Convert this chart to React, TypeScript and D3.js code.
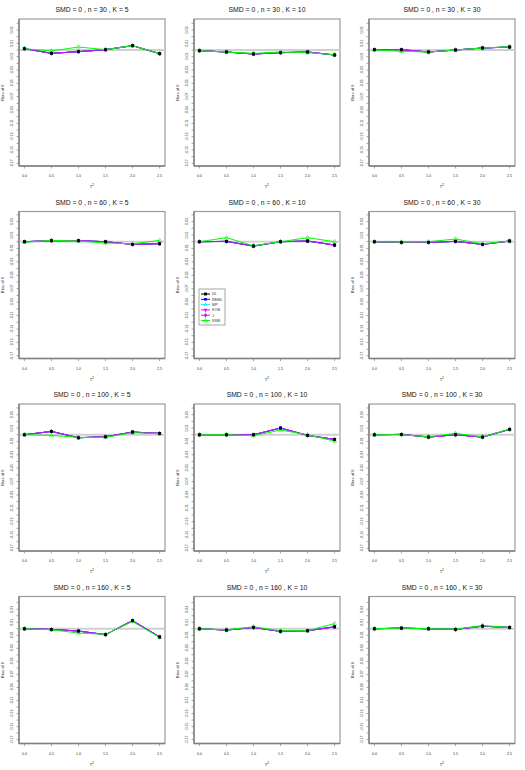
import React from "react";
import * as d3 from "d3";

// tau^2 values on the x axis
const tauSq = [0, 0.5, 1, 1.5, 2, 2.5];
const nLevels = [30, 60, 100, 160];
const kLevels = [5, 10, 30];

const methods = ["DL", "REML", "MP", "KOB", "J", "SSM"];
const methodColors = ["#000000", "#0000ff", "#00ffff", "#ff00ff", "#a020f0", "#00ff00"];

// bias of theta for DL / REML / MP / KOB / J (nearly identical), one row per panel
const biasMain = [
  [0.002, -0.005, -0.0025, 0.0005, 0.0065, -0.0055],
  [-0.001, -0.003, -0.006, -0.004, -0.003, -0.0075],
  [0.0005, 0.0005, -0.003, 0.0, 0.003, 0.0045],
  [0.0, 0.0015, 0.0015, 0.0, -0.004, -0.003],
  [0.0, 0.0005, -0.0065, 0.0, 0.001, -0.005],
  [0.0, -0.001, -0.001, 0.0005, -0.004, 0.001],
  [0.0, 0.005, -0.0045, -0.003, 0.004, 0.002],
  [0.0, 0.0, 0.0, 0.01, -0.001, -0.007],
  [0.0, 0.0005, -0.0035, 0.0, -0.0035, 0.008],
  [0.0, -0.001, -0.0035, -0.009, 0.0125, -0.0125],
  [0.0, -0.002, 0.002, -0.004, -0.003, 0.003],
  [0.0, 0.001, 0.0, -0.001, 0.004, 0.002],
];

// bias for SSM
const biasSSM = [
  [0.002, -0.0015, 0.0045, 0.0005, 0.0065, -0.005],
  [-0.001, -0.003, -0.005, -0.003, -0.004, -0.007],
  [0.0, -0.002, -0.003, 0.0, 0.003, 0.005],
  [-0.001, 0.002, 0.001, -0.002, -0.003, 0.002],
  [0.0, 0.006, -0.006, 0.0, 0.006, 0.0],
  [0.0, -0.0005, 0.0, 0.004, -0.003, 0.001],
  [0.0, -0.001, -0.004, -0.004, 0.003, 0.0015],
  [0.0, 0.0, -0.0015, 0.007, 0.0, -0.0095],
  [0.0, 0.0, -0.003, 0.002, -0.003, 0.0085],
  [0.0, -0.0015, -0.0065, -0.0085, 0.011, -0.0135],
  [0.0, -0.0015, 0.003, -0.003, -0.003, 0.008],
  [0.0, 0.001, 0.0, -0.0005, 0.005, 0.002],
];

// y limits per row of panels
const rowYLim = [
  [-0.174, 0.0465],
  [-0.174, 0.045],
  [-0.174, 0.046],
  [-0.176, 0.0495],
];

const yTicks = d3.range(-17, 5).map((v) => v / 100);
const xTickLabels = ["0.0", "0.5", "1.0", "1.5", "2.0", "2.5"];

const W = 525;
const H = 770;
const panelW = 175;
const panelH = 192.5;
const box = { left: 19, right: 165, top: 19, bottom: 166 };
const font = "Liberation Sans, Arial, sans-serif";

const symbolFor = (i: number) => {
  const types = [
    d3.symbolSquare,
    d3.symbolSquare,
    d3.symbolTriangle,
    d3.symbolTriangle,
    d3.symbolDiamond,
    d3.symbolTriangle,
  ];
  return d3.symbol().type(types[i]).size(i === 0 ? 8 : 7)() as string;
};

function Marker({ i, x, y }: { i: number; x: number; y: number }) {
  const open = i === 5;
  return (
    <path
      d={symbolFor(i)}
      transform={`translate(${x},${y})${i === 3 ? " rotate(180)" : ""}`}
      fill={open ? "none" : methodColors[i]}
      stroke={open ? methodColors[i] : "none"}
      strokeWidth={0.6}
    />
  );
}

function Panel({ idx }: { idx: number }) {
  const row = Math.floor(idx / 3);
  const col = idx % 3;
  const x = d3
    .scaleLinear()
    .domain([-0.1, 2.6])
    .range([box.left, box.right]);
  const y = d3.scaleLinear().domain(rowYLim[row]).range([box.bottom, box.top]);
  const seriesValues = methods.map((_, m) => (m === 5 ? biasSSM[idx] : biasMain[idx]));
  const line = d3
    .line<number>()
    .x((_, j) => x(tauSq[j]))
    .y((d) => y(d));
  const cx = (box.left + box.right) / 2;
  const cy = (box.top + box.bottom) / 2;
  const ticks = yTicks.filter((t) => t >= rowYLim[row][0] && t <= rowYLim[row][1]);

  return (
    <g transform={`translate(${col * panelW},${row * panelH})`}>
      <text x={cx} y={12} textAnchor="middle" fontSize={6.8} fontFamily={font} fill="#111">
        {`SMD = 0 , n = ${nLevels[row]} , K = ${kLevels[col]}`}
      </text>
      <rect
        x={box.left}
        y={box.top}
        width={box.right - box.left}
        height={box.bottom - box.top}
        fill="none"
        stroke="#9a9a9a"
        strokeWidth={1.2}
      />
      <line x1={box.left} x2={box.right} y1={y(0)} y2={y(0)} stroke="#d0d0d0" strokeWidth={1.8} />
      {seriesValues.map((vals, m) => (
        <path key={m} d={line(vals) as string} fill="none" stroke={methodColors[m]} strokeWidth={1} />
      ))}
      {seriesValues.map((vals, m) =>
        vals.map((v, j) => <Marker key={`${m}-${j}`} i={m} x={x(tauSq[j])} y={y(v)} />)
      )}
      {biasMain[idx].map((v, j) => (
        <Marker key={`dl-${j}`} i={0} x={x(tauSq[j])} y={y(v)} />
      ))}
      {/* left axis */}
      <line x1={box.left} x2={box.left} y1={box.top} y2={box.bottom} stroke="#808080" strokeWidth={1.4} />
      {ticks.map((t) => {
        const k = Math.round(t * 100);
        return (
          <g key={k} transform={`translate(${box.left},${y(t)})`}>
            <line x1={0} x2={-2.5} stroke="#808080" strokeWidth={0.7} />
            {Math.abs(k) % 2 === 1 && (
              <text
                transform="translate(-6,0) rotate(-90)"
                textAnchor="middle"
                fontSize={3.6}
                fontFamily={font}
                fill="#333"
              >
                {d3.format(".2f")(t).replace("−", "-")}
              </text>
            )}
          </g>
        );
      })}
      {/* bottom axis */}
      <line x1={box.left} x2={box.right} y1={box.bottom} y2={box.bottom} stroke="#808080" strokeWidth={1.4} />
      {tauSq.map((t, j) => (
        <g key={j} transform={`translate(${x(t)},${box.bottom})`}>
          <line y1={0} y2={2.5} stroke="#808080" strokeWidth={0.7} />
          <text y={11} textAnchor="middle" fontSize={3.6} fontFamily={font} fill="#333">
            {xTickLabels[j]}
          </text>
        </g>
      ))}
      <text x={cx} y={188} textAnchor="middle" fontSize={5} fontFamily={font} fill="#333">
        τ<tspan dy={-2} fontSize={3.5}>2</tspan>
      </text>
      <text
        transform={`translate(4,${cy}) rotate(-90)`}
        textAnchor="middle"
        fontSize={4.2}
        fontFamily={font}
        fill="#333"
      >
        Bias of θ
      </text>
      {idx === 4 && <Legend />}
    </g>
  );
}

function Legend() {
  const lx = box.left + 5;
  const ly = 96.5;
  const rowH = 5.3;
  return (
    <g transform={`translate(${lx},${ly})`}>
      <rect x={0} y={0} width={26} height={36} fill="white" stroke="#808080" strokeWidth={0.7} />
      {methods.map((m, i) => (
        <g key={m} transform={`translate(0,${5 + i * rowH})`}>
          <line x1={2} x2={11} stroke={methodColors[i]} strokeWidth={1} />
          <Marker i={i} x={6.5} y={0} />
          <text x={13} y={1.4} fontSize={3.8} fontFamily={font} fill="#333">
            {m}
          </text>
        </g>
      ))}
    </g>
  );
}

export default function App() {
  return (
    <svg
      width={W}
      height={H}
      style={{ position: "absolute", left: 0, top: 0, background: "white" }}
    >
      {d3.range(12).map((i) => (
        <Panel key={i} idx={i} />
      ))}
    </svg>
  );
}
